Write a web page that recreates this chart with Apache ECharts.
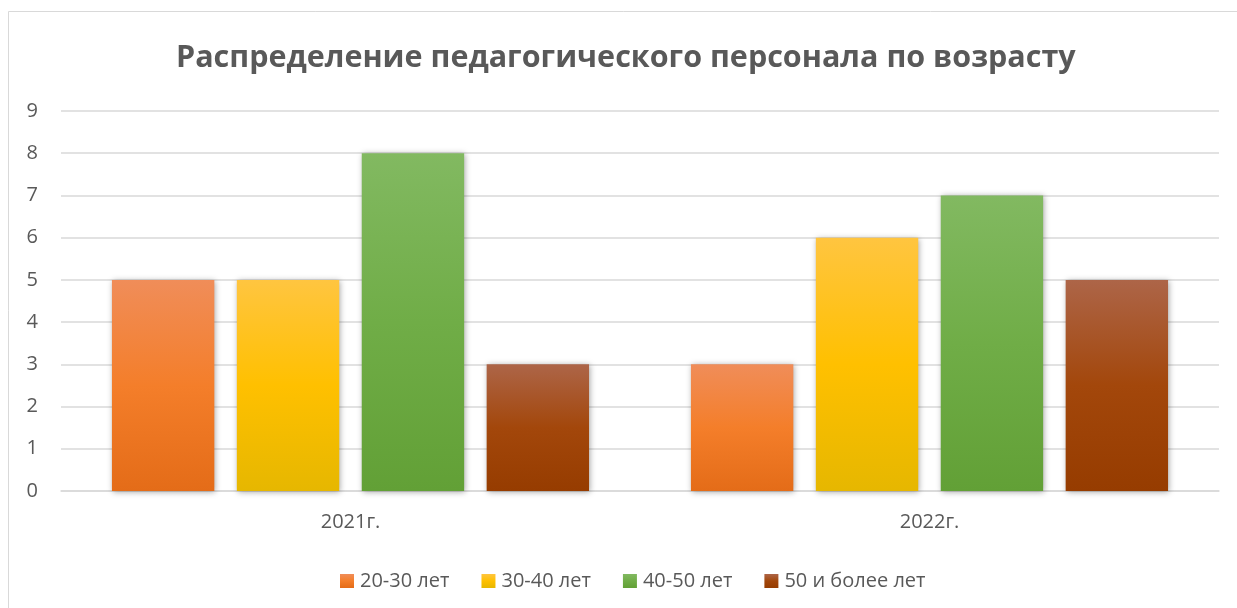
<!DOCTYPE html>
<html>
<head>
<meta charset="utf-8">
<script src="https://cdn.jsdelivr.net/npm/echarts@6/dist/echarts.min.js"></script>
<style>
  html, body { margin: 0; padding: 0; background: #fff; }
  #chart { width: 1237px; height: 608px; }
</style>
</head>
<body>
<div id="chart"></div>
<script>
const categories = ['2021г.', '2022г.'];
const seriesNames = ['20-30 лет', '30-40 лет', '40-50 лет', '50 и более лет'];
const values2030 = [5, 3];
const values3040 = [5, 6];
const values4050 = [8, 7];
const values50plus = [3, 5];
const yTicks = [0, 1, 2, 3, 4, 5, 6, 7, 8, 9];

// top, middle, bottom colours of each bar gradient
const gradients = [
  ['#F08D59', '#F47E2A', '#E46C18'],
  ['#FFC540', '#FFC000', '#E6B700'],
  ['#82B961', '#70AD47', '#62A036'],
  ['#AD6548', '#A3470B', '#963C00']
];

const font = '"Open Sans", "Noto Sans", sans-serif';

const makeSeries = (name, data, g) => ({
  name: name,
  type: 'bar',
  data: data,
  barGap: '22%',
  barCategoryGap: '17.6%',
  itemStyle: {
    color: new echarts.graphic.LinearGradient(0, 0, 0, 1, [
      { offset: 0, color: g[0] },
      { offset: 0.5, color: g[1] },
      { offset: 1, color: g[2] }
    ]),
    shadowBlur: 6,
    shadowColor: 'rgba(0,0,0,0.35)',
    shadowOffsetX: 1,
    shadowOffsetY: 1
  }
});

const chart = echarts.init(document.getElementById('chart'));

const option = {
  animation: false,
  backgroundColor: '#fff',
  graphic: [{
    type: 'rect',
    shape: { x: 8.5, y: 11.5, width: 1300, height: 700 },
    style: { fill: 'none', stroke: '#D9D9D9', lineWidth: 1 },
    silent: true
  }],
  title: {
    text: 'Распределение педагогического персонала по возрасту',
    left: 176,
    top: 43,
    padding: 0,
    textStyle: { fontFamily: font, fontSize: 30.5, fontWeight: 'bold', color: '#595959' }
  },
  legend: {
    top: 566,
    left: 335,
    itemWidth: 14,
    itemHeight: 14,
    itemGap: 32,
    icon: 'rect',
    textStyle: { fontFamily: font, fontSize: 20, color: '#595959', padding: [0, 0, 0, 1] },
    data: seriesNames
  },
  grid: { left: 61, right: 18, top: 111, bottom: 117, containLabel: false },
  xAxis: {
    type: 'category',
    data: categories,
    axisLine: { lineStyle: { color: '#D9D9D9', width: 1.5 } },
    axisTick: { show: false },
    axisLabel: { fontFamily: font, fontSize: 20, color: '#595959', margin: 21 }
  },
  yAxis: {
    type: 'value',
    min: yTicks[0],
    max: yTicks[yTicks.length - 1],
    interval: 1,
    axisLine: { show: false },
    axisTick: { show: false },
    splitLine: { lineStyle: { color: '#D9D9D9', width: 1.5 } },
    axisLabel: { fontFamily: font, fontSize: 20, color: '#595959', margin: 23 }
  },
  series: [
    makeSeries(seriesNames[0], values2030, gradients[0]),
    makeSeries(seriesNames[1], values3040, gradients[1]),
    makeSeries(seriesNames[2], values4050, gradients[2]),
    makeSeries(seriesNames[3], values50plus, gradients[3])
  ]
};

chart.setOption(option);
</script>
</body>
</html>
